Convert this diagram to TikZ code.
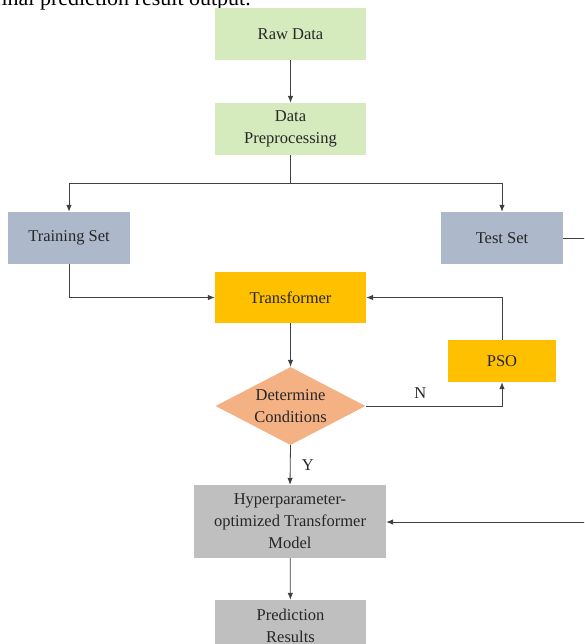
\documentclass[tikz,border=0pt]{standalone}
\usepackage{fontspec}
\setmainfont{Liberation Serif}
\usetikzlibrary{shapes.geometric,arrows.meta}
\definecolor{cgreen}{HTML}{D5EBBE}
\definecolor{cblue}{HTML}{ADB9CA}
\definecolor{cyellow}{HTML}{FFC000}
\definecolor{corange}{HTML}{F4B183}
\definecolor{cgray}{HTML}{BFBFBF}
\definecolor{cline}{HTML}{404040}
\definecolor{ctext}{HTML}{262626}
\begin{document}
\begin{tikzpicture}[x=1pt,y=-1pt,
  box/.style={rectangle,inner sep=0pt,align=center,text=ctext,
    font=\fontsize{16.5}{22}\selectfont},
  dia/.style={diamond,inner sep=0pt,align=center,text=ctext,fill=corange,
    font=\fontsize{16.5}{22}\selectfont},
  conn/.style={draw=cline,line width=0.8pt,-{Latex[length=7pt,width=5.5pt]}},
  line/.style={draw=cline,line width=0.8pt},
  lbl/.style={text=ctext,font=\fontsize{16.5}{20}\selectfont}]
\useasboundingbox (0,0) rectangle (584,644);
\clip (0,0) rectangle (584,644);
\node[anchor=base west,text=black,inner sep=0pt,font=\fontsize{22}{26}\selectfont] (cap) at (-6,6) {final prediction result output.};
\node[box,fill=cgreen,minimum width=151pt,minimum height=52pt] (raw) at (290.5,34) {Raw Data};
\node[box,fill=cgreen,minimum width=151pt,minimum height=52pt] (pre) at (290.5,129) {Data\\Preprocessing};
\node[box,fill=cblue,minimum width=122pt,minimum height=52pt] (train) at (69,238) {Training Set};
\node[box,fill=cblue,minimum width=122pt,minimum height=52pt] (test) at (502,238) {Test Set};
\node[box,fill=cyellow,minimum width=151pt,minimum height=51pt] (tr) at (290.5,297.5) {Transformer};
\node[box,fill=cyellow,minimum width=108pt,minimum height=42pt] (pso) at (502,361) {PSO};
\node[dia,minimum width=150pt,minimum height=78pt,aspect=1.92] (det) at (290.5,406) {Determine\\Conditions};
\node[box,fill=cgray,minimum width=192pt,minimum height=73pt] (hyp) at (290,521.5) {Hyperparameter-\\optimized Transformer\\Model};
\node[box,fill=cgray,minimum width=151pt,minimum height=52pt] (res) at (290.5,626) {Prediction\\Results};
\coordinate (split) at (290.5,183);
\coordinate (off) at (600,238);
\coordinate (off2) at (600,522);
\draw[conn] (raw) -- (pre);
\draw[line] (pre) -- (split);
\draw[conn] (split) -| (train);
\draw[conn] (split) -| (test);
\draw[conn] (train.south) |- (tr.west);
\draw[conn] (pso.north) |- (tr.east);
\draw[conn] (tr) -- (det.north);
\draw[conn] (det.east) -| node[pos=0.2,above=4pt,lbl] (n) {N} (pso.south);
\draw[conn] (det.south) -- node[right=8pt,lbl] (y) {Y} (hyp.north);
\draw[line] (test.east) -- (off);
\draw[conn] (off2) -- (hyp.east |- off2);
\draw[conn] (hyp) -- (res);
\end{tikzpicture}
\end{document}
